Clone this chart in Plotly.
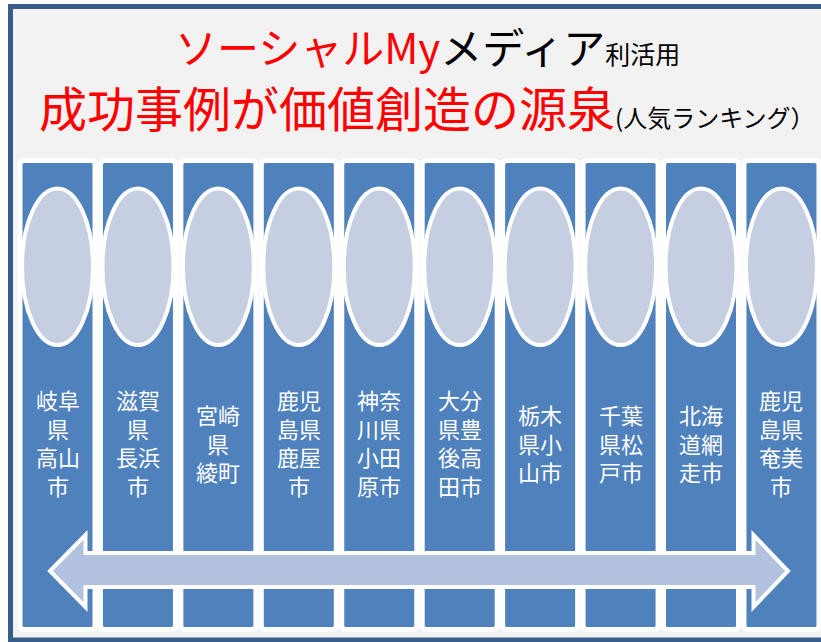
import plotly.graph_objects as go

# ---- data ----
title_red = "ソーシャルMy"
title_black = "メディア"
title_small = "利活用"
subtitle_red = "成功事例が価値創造の源泉"
subtitle_small = "(人気ランキング）"

city_lines = [
    ["岐阜", "県", "高山", "市"],
    ["滋賀", "県", "長浜", "市"],
    ["宮崎", "県", "綾町"],
    ["鹿児", "島県", "鹿屋", "市"],
    ["神奈", "川県", "小田", "原市"],
    ["大分", "県豊", "後高", "田市"],
    ["栃木", "県小", "山市"],
    ["千葉", "県松", "戸市"],
    ["北海", "道網", "走市"],
    ["鹿児", "島県", "奄美", "市"],
]

# ---- styling / layout constants ----
W, H = 821, 642
X0, PITCH = 57.5, 80.44          # pixel centre of first column, column pitch
FONT = "Noto Sans CJK JP"
BLUE = "#4F81BD"
ELLIPSE = "#C6CFE2"
ARROW = "#B2C2DE"
FRAME = "#385D8A"
BG = "#F2F2F2"


def xu(px):
    return (px - X0) / PITCH


fig = go.Figure()
shapes = []

# outer frame
shapes.append(dict(type="rect", xref="paper", yref="y",
                   x0=10.5 / W, x1=830 / W, y0=6.5, y1=640,
                   line=dict(color=FRAME, width=5), fillcolor=BG, layer="below"))

hw = 37.5 / PITCH
rx, ry = 4 / PITCH, 4
top, bot = 160.5, 629.5
for i, lines in enumerate(city_lines):
    l, r = i - hw, i + hw
    path = (f"M{l+rx},{top} L{r-rx},{top} Q{r},{top} {r},{top+ry} "
            f"L{r},{bot-ry} Q{r},{bot} {r-rx},{bot} L{l+rx},{bot} "
            f"Q{l},{bot} {l},{bot-ry} L{l},{top+ry} Q{l},{top} {l+rx},{top} Z")
    shapes.append(dict(type="path", xref="x", yref="y", path=path,
                       fillcolor=BLUE, line=dict(color="white", width=5)))
    ew = 35.5 / PITCH
    shapes.append(dict(type="circle", xref="x", yref="y",
                       x0=i - ew, x1=i + ew, y0=188.5, y1=345,
                       fillcolor=ELLIPSE, line=dict(color="white", width=4)))
    fig.add_annotation(x=i, y=442, xref="x", yref="y",
                       text="<br>".join(lines), showarrow=False,
                       xanchor="center", yanchor="middle", align="center",
                       font=dict(family=FONT, size=22, color="white"))

# double-headed arrow
lt, lb, rb, rt = xu(50), xu(85.5), xu(753.5), xu(788)
yc, ht, hb, st, sb = 571, 535, 607, 553, 587
apath = (f"M{lt},{yc} L{lb},{ht} L{lb},{st} L{rb},{st} L{rb},{ht} L{rt},{yc} "
         f"L{rb},{hb} L{rb},{sb} L{lb},{sb} L{lb},{hb} Z")
shapes.append(dict(type="path", xref="x", yref="y", path=apath,
                   fillcolor=ARROW, line=dict(color="white", width=4)))

# titles
fig.add_annotation(
    x=427.5 / W, y=45, xref="paper", yref="y", showarrow=False,
    xanchor="center", yanchor="middle",
    text=(f"<span style='color:#FF0000'>{title_red}</span>{title_black}"
          f"<span style='font-size:25px'>{title_small}</span>"),
    font=dict(family=FONT, size=42, color="black"))
fig.add_annotation(
    x=426 / W, y=106, xref="paper", yref="y", showarrow=False,
    xanchor="center", yanchor="middle",
    text=(f"<span style='color:#FF0000'>{subtitle_red}</span>"
          f"<span style='font-size:24px'>{subtitle_small}</span>"),
    font=dict(family=FONT, size=48, color="black"))

fig.update_layout(
    width=W, height=H, margin=dict(l=0, r=0, t=0, b=0),
    paper_bgcolor="white", plot_bgcolor="rgba(0,0,0,0)",
    shapes=shapes, showlegend=False,
    xaxis=dict(range=[xu(0), xu(W)], visible=False, fixedrange=True),
    yaxis=dict(range=[H, 0], visible=False, fixedrange=True),
)

fig.write_html("out.html", config={"displayModeBar": False},
               post_script="document.body.style.margin='0';")
